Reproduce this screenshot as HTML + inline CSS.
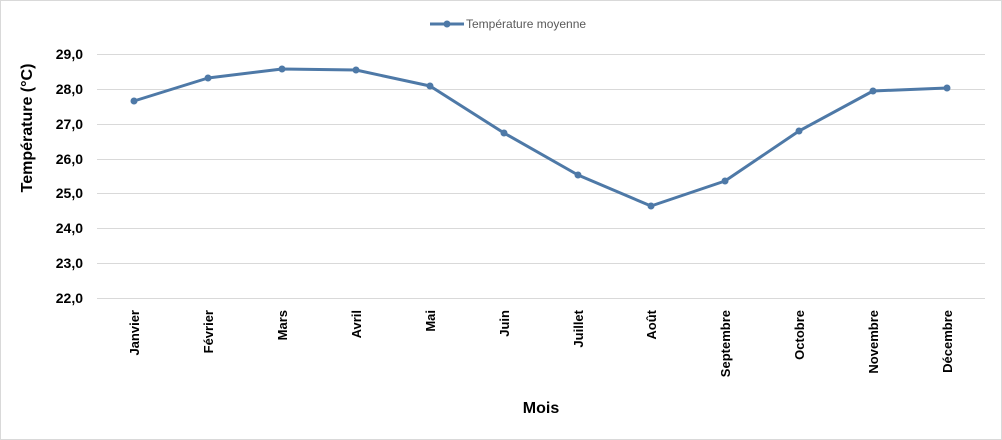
<!DOCTYPE html><html><head><style>body{margin:0;background:#fff}svg{display:block}</style></head><body>
<svg width="1002" height="440" xmlns="http://www.w3.org/2000/svg" font-family="Liberation Sans, Arial, sans-serif">
<rect x="0.5" y="0.5" width="1001" height="439" fill="#fff" stroke="#d9d9d9"/>
<g stroke="#d9d9d9" stroke-width="1">
<line x1="97" x2="985" y1="54.5" y2="54.5"/><line x1="97" x2="985" y1="89.5" y2="89.5"/><line x1="97" x2="985" y1="124.5" y2="124.5"/><line x1="97" x2="985" y1="159.5" y2="159.5"/><line x1="97" x2="985" y1="193.5" y2="193.5"/><line x1="97" x2="985" y1="228.5" y2="228.5"/><line x1="97" x2="985" y1="263.5" y2="263.5"/><line x1="97" x2="985" y1="298.5" y2="298.5"/>
</g>
<g font-size="14" font-weight="bold" text-anchor="end" fill="#000">
<text x="83" y="59">29,0</text><text x="83" y="94">28,0</text><text x="83" y="129">27,0</text><text x="83" y="164">26,0</text><text x="83" y="198">25,0</text><text x="83" y="233">24,0</text><text x="83" y="268">23,0</text><text x="83" y="303">22,0</text>
</g>
<text transform="translate(32,128) rotate(-90)" font-size="16" font-weight="bold" text-anchor="middle">Température (°C)</text>
<text x="541" y="413" font-size="16" font-weight="bold" text-anchor="middle">Mois</text>
<g font-size="13" font-weight="bold" text-anchor="end">
<text transform="translate(139,310) rotate(-90)">Janvier</text>
<text transform="translate(213,310) rotate(-90)">Février</text>
<text transform="translate(287,310) rotate(-90)">Mars</text>
<text transform="translate(361,310) rotate(-90)">Avril</text>
<text transform="translate(435,310) rotate(-90)">Mai</text>
<text transform="translate(509,310) rotate(-90)">Juin</text>
<text transform="translate(583,310) rotate(-90)">Juillet</text>
<text transform="translate(656,310) rotate(-90)">Août</text>
<text transform="translate(730,310) rotate(-90)">Septembre</text>
<text transform="translate(804,310) rotate(-90)">Octobre</text>
<text transform="translate(878,310) rotate(-90)">Novembre</text>
<text transform="translate(952,310) rotate(-90)">Décembre</text>
</g>
<polyline fill="none" stroke="#4e79a7" stroke-width="3" stroke-linejoin="round" points="134,101 208,78 282,69 356,70 430,86 504,133 578,175 651,206 725,181 799,131 873,91 947,88"/>
<g fill="#4e79a7">
<circle cx="134" cy="101" r="3.5"/><circle cx="208" cy="78" r="3.5"/><circle cx="282" cy="69" r="3.5"/><circle cx="356" cy="70" r="3.5"/><circle cx="430" cy="86" r="3.5"/><circle cx="504" cy="133" r="3.5"/><circle cx="578" cy="175" r="3.5"/><circle cx="651" cy="206" r="3.5"/><circle cx="725" cy="181" r="3.5"/><circle cx="799" cy="131" r="3.5"/><circle cx="873" cy="91" r="3.5"/><circle cx="947" cy="88" r="3.5"/>
</g>
<line x1="430" x2="464" y1="24" y2="24" stroke="#4e79a7" stroke-width="3"/>
<circle cx="447" cy="24" r="3.5" fill="#4e79a7"/>
<text x="466" y="28" font-size="12" fill="#595959">Température moyenne</text>
</svg>
</body></html>
